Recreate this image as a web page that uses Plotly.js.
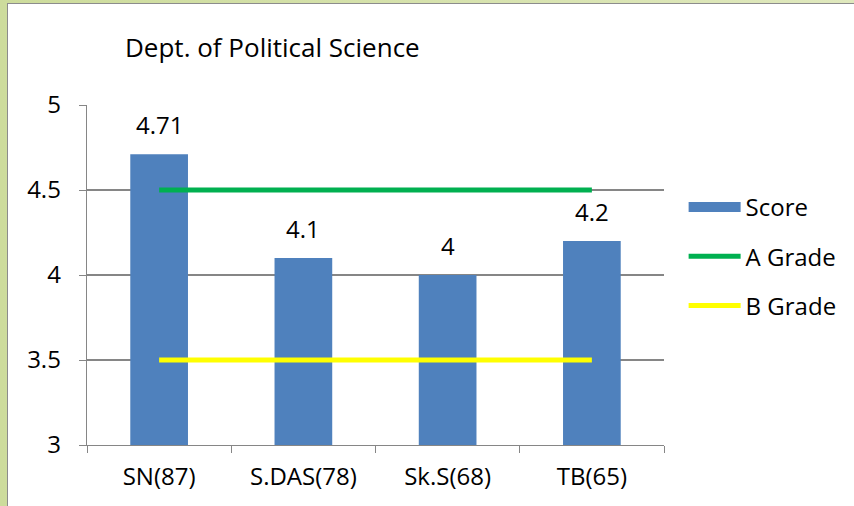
<!DOCTYPE html>
<html><head><meta charset="utf-8">
<script src="https://cdn.plot.ly/plotly-3.0.1.min.js"></script>
<style>
html,body{margin:0;padding:0;width:854px;height:506px;overflow:hidden;background:linear-gradient(90deg,#cddc9c,#dfe8bd);}
#wrap{position:absolute;left:7px;top:3px;width:846px;height:502px;border:1px solid #8c8c8c;border-right:none;border-bottom:none;background:#fff;}
#chart{width:846px;height:502px;}
</style></head>
<body><div id="wrap"><div id="chart"></div></div>
<script>
const categories = ["SN(87)", "S.DAS(78)", "Sk.S(68)", "TB(65)"];
const scores = [4.71, 4.1, 4, 4.2];
const aGrade = [4.5, 4.5, 4.5, 4.5];
const bGrade = [3.5, 3.5, 3.5, 3.5];
const titleText = "Dept. of Political Science";

const FONT = "Open Sans, Liberation Sans, sans-serif";
const FS = 24;
const traces = [
  {type:"bar", name:"Score", x:categories, y:scores, marker:{color:"#4f81bd"}, width:0.4, showlegend:false},
  {type:"scatter", mode:"lines", name:"Score", x:[null], y:[null], line:{color:"#4f81bd",width:15}, legendgroup:"s"},
  {type:"scatter", mode:"lines", name:"A Grade", x:categories, y:aGrade, line:{color:"#00b050",width:5}, legendgroup:"a"},
  {type:"scatter", mode:"lines", name:"B Grade", x:categories, y:bGrade, line:{color:"#ffff00",width:5}, legendgroup:"b"}
];
const labelAnnotations = categories.map((c, i) => ({
  x: c, y: scores[i], xref:"x", yref:"y", text: String(scores[i]), showarrow:false,
  yanchor:"bottom", yshift:11, font:{size:FS, family:FONT, color:"#000"}
}));
const layout = {
  width:846, height:502,
  margin:{l:79, r:187, t:101, b:61},
  paper_bgcolor:"#fff", plot_bgcolor:"#fff",
  font:{family:FONT, size:FS, color:"#000"},
  title:{text:titleText, x:0, xref:"paper", xanchor:"left", y:0.912, yref:"container", yanchor:"middle",
    pad:{l:38}, font:{size:26,family:FONT,color:"#000"}},
  showlegend:true,
  legend:{x:1.034, xanchor:"left", y:0.765, yanchor:"top", traceorder:"grouped", tracegroupgap:15,
    font:{size:FS,family:FONT}, itemwidth:52},
  annotations: labelAnnotations,
  xaxis:{type:"category", showline:true, linecolor:"#868686", linewidth:1.3, ticks:"outside", ticklen:7,
    tickcolor:"#868686", tickson:"boundaries", showgrid:false, tickfont:{size:FS}, ticklabelstandoff:10,
    automargin:false},
  yaxis:{range:[3,5], dtick:0.5, showline:true, linecolor:"#868686", linewidth:1.3, ticks:"outside", ticklen:7,
    tickcolor:"#868686", showgrid:true, gridcolor:"#868686", gridwidth:1.3, zeroline:false, tickfont:{size:FS},
    ticklabelstandoff:13, automargin:false},
  bargap:0.6
};
Plotly.newPlot("chart", traces, layout, {displayModeBar:false, staticPlot:true});
</script></body></html>
